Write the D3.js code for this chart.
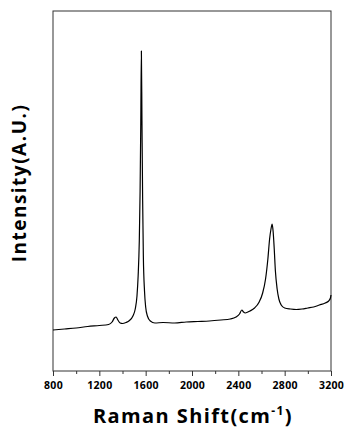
<!DOCTYPE html>
<html>
<head>
<meta charset="utf-8">
<script src="https://cdn.jsdelivr.net/npm/d3@7"></script>
<style>
  body { margin: 0; background: #fff; }
  svg { display: block; }
  .tick text { font-family: "Open Sans", sans-serif; font-weight: bold; font-size: 10.5px; letter-spacing: 0.3px; }
  .title { font-family: "Open Sans", sans-serif; font-weight: bold; fill: #000; }
</style>
</head>
<body>
<div id="chart"></div>
<script>
/*
 * Raman spectrum (arbitrary intensity units)
 */

var shift = [800, 900, 1000, 1100, 1200, 1280, 1310, 1330, 1345, 1360, 1380, 1400, 1430, 1460, 1490, 1510,
  1525, 1535, 1545, 1552, 1558, 1563, 1568, 1574, 1580, 1590, 1600, 1615, 1640, 1680, 1750, 1850, 1950,
  2050, 2150, 2250, 2330, 2380, 2410, 2430, 2445, 2460, 2500, 2540, 2580, 2610, 2635, 2655, 2670, 2682,
  2692, 2700, 2710, 2720, 2735, 2750, 2770, 2800, 2850, 2900, 2950, 3000, 3050, 3100, 3150, 3180, 3195, 3200];

var intensity = [41, 42, 43, 44.5, 45.5, 46.5, 49, 53, 54, 51, 48, 47.5, 48.5, 50.5, 55, 62,
  75, 95, 130, 180, 250, 320, 250, 170, 115, 80, 64, 55, 50, 48, 48.5, 48, 49,
  49.5, 50, 51, 52, 54, 57, 61, 59, 58, 60, 63, 69, 78, 92, 112, 132, 142,
  147, 140, 122, 100, 82, 72, 66, 63, 62, 61.5, 62, 63, 64, 66, 68, 70, 73, 76];

var xTicks = [800, 1200, 1600, 2000, 2400, 2800, 3200];
var xMinor = [1000, 1400, 1800, 2200, 2600, 3000];

var width = 348, height = 428;
var margin = { top: 11, right: 17, bottom: 57, left: 53 };

var svg = d3.select("#chart").append("svg").attr("width", width).attr("height", height);

var x = d3.scaleLinear().domain([800, 3200]).range([margin.left, width - margin.right]);
var y = d3.scaleLinear().domain([0, 360]).range([height - margin.bottom, margin.top]);

// minor ticks
svg.append("g")
  .attr("transform", "translate(0," + (height - margin.bottom) + ")")
  .call(d3.axisBottom(x).tickValues(xMinor).tickSize(3).tickFormat(""))
  .call(function(g){ g.select(".domain").remove(); g.selectAll("line").attr("stroke", "#333"); });

// major ticks + labels
svg.append("g")
  .attr("transform", "translate(0," + (height - margin.bottom) + ")")
  .call(d3.axisBottom(x).tickValues(xTicks).tickSize(5).tickPadding(6).tickFormat(d3.format("d")))
  .call(function(g){ g.select(".domain").remove(); g.selectAll("line").attr("stroke", "#333"); });

// frame
svg.append("rect")
  .attr("x", margin.left).attr("y", margin.top)
  .attr("width", width - margin.left - margin.right)
  .attr("height", height - margin.top - margin.bottom)
  .attr("fill", "none").attr("stroke", "#333").attr("stroke-width", 1);

var line = d3.line()
  .x(function(d, i){ return x(shift[i]); })
  .y(function(d){ return y(d); })
  .curve(d3.curveMonotoneX);

svg.append("path")
  .datum(intensity)
  .attr("d", line)
  .attr("fill", "none")
  .attr("stroke", "#000")
  .attr("stroke-width", 1.2);

// axis titles
var xt = svg.append("text").attr("class", "title")
  .attr("x", 193).attr("y", 423)
  .attr("font-size", "20px").attr("letter-spacing", "1.4px")
  .attr("text-anchor", "middle");
xt.append("tspan").text("Raman Shift(cm");
xt.append("tspan").attr("font-size", "12px").attr("dy", "-8").text("-1");
xt.append("tspan").attr("dy", "8").text(")");

svg.append("text").attr("class", "title")
  .attr("transform", "translate(26," + 183 + ") rotate(-90)")
  .attr("font-size", "19px").attr("letter-spacing", "1.5px")
  .attr("text-anchor", "middle")
  .text("Intensity(A.U.)");
</script>
</body>
</html>
